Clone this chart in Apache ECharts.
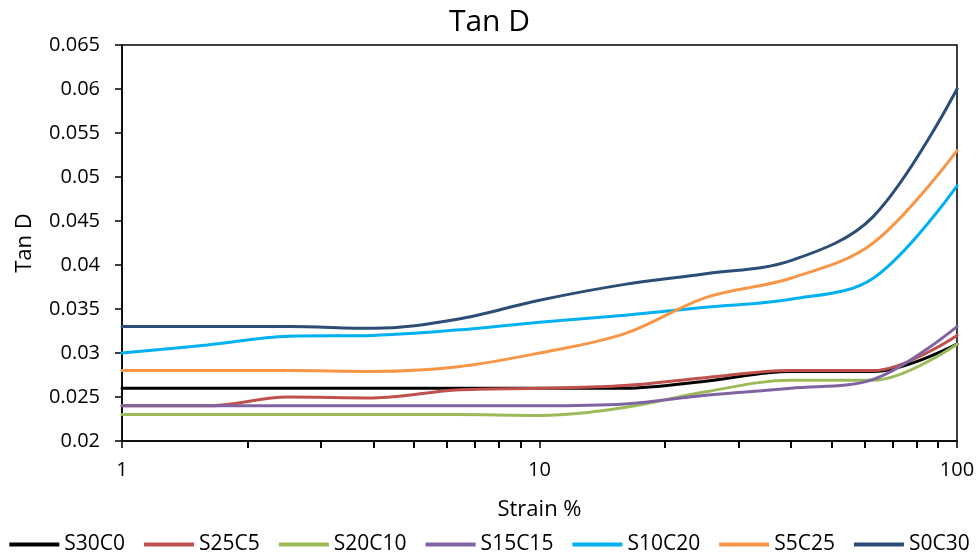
<!DOCTYPE html>
<html>
<head>
<meta charset="utf-8">
<script src="https://cdn.jsdelivr.net/npm/echarts@6/dist/echarts.min.js"></script>
<style>html,body{margin:0;padding:0;background:#fff;}#c{width:979px;height:560px;}</style>
</head>
<body>
<div id="c"></div>
<script>
var strain = [1, 1.6, 2.5, 4, 6.3, 10, 16, 25, 40, 63, 100];
var S30C0  = [0.026, 0.026, 0.026, 0.026, 0.026, 0.026, 0.026, 0.0268, 0.0279, 0.0279, 0.031];
var S25C5  = [0.024, 0.024, 0.025, 0.0249, 0.0258, 0.026, 0.0263, 0.0272, 0.028, 0.028, 0.032];
var S20C10 = [0.023, 0.023, 0.023, 0.023, 0.023, 0.0229, 0.0238, 0.0256, 0.0269, 0.0269, 0.031];
var S15C15 = [0.024, 0.024, 0.024, 0.024, 0.024, 0.024, 0.0242, 0.0252, 0.026, 0.027, 0.033];
var S10C20 = [0.030, 0.0309, 0.0319, 0.032, 0.0326, 0.0335, 0.0343, 0.0352, 0.0361, 0.0385, 0.049];
var S5C25  = [0.028, 0.028, 0.028, 0.0279, 0.0284, 0.030, 0.0322, 0.0363, 0.0385, 0.0425, 0.053];
var S0C30  = [0.033, 0.033, 0.033, 0.0328, 0.0338, 0.036, 0.0378, 0.039, 0.0405, 0.0455, 0.060];
var seriesNames = ['S30C0', 'S25C5', 'S20C10', 'S15C15', 'S10C20', 'S5C25', 'S0C30'];
var seriesValues = [S30C0, S25C5, S20C10, S15C15, S10C20, S5C25, S0C30];
var colors = ['#000000', '#C0504D', '#9BBB59', '#8064A2', '#00B0F0', '#F79646', '#2C4D75'];
var yMin = 0.02, yMax = 0.065;

var FONT = 'Open Sans';
var series = seriesNames.map(function (n, i) {
  return {
    name: n, type: 'line', smooth: 0.35, showSymbol: false, symbol: 'none',
    data: strain.map(function (x, j) { return [x, seriesValues[i][j]]; }),
    lineStyle: { color: colors[i], width: 3, cap: 'round' },
    itemStyle: { color: colors[i] },
    emphasis: { disabled: true }, z: 3 + i
  };
});

var chart = echarts.init(document.getElementById('c'), null, { renderer: 'canvas' });
chart.setOption({
  animation: false,
  color: colors,
  title: { text: 'Tan D', left: 'center', top: 2,
           textStyle: { fontFamily: FONT, fontSize: 30, fontWeight: 'normal', color: '#000' } },
  grid: { left: 122, right: 22, top: 45, bottom: 119, show: true, borderColor: '#000', borderWidth: 1.5, backgroundColor: 'transparent' },
  legend: { data: seriesNames, bottom: 0, left: 'center', itemWidth: 50, itemHeight: 4, itemGap: 19, icon: 'rect',
            textStyle: { fontFamily: FONT, fontSize: 21, color: '#000' } },
  xAxis: {
    type: 'log', logBase: 10, min: 1, max: 100,
    name: 'Strain %', nameLocation: 'middle', nameGap: 58,
    nameTextStyle: { fontFamily: FONT, fontSize: 22, color: '#000' },
    axisLine: { lineStyle: { color: '#000', width: 1.5 } },
    axisTick: { show: true, length: 7, lineStyle: { color: '#000', width: 1.5 } },
    axisLabel: { fontFamily: FONT, fontSize: 20, color: '#000', margin: 19 },
    splitLine: { show: false },
    minorTick: { show: true, splitNumber: 9, length: 7, lineStyle: { color: '#000', width: 2 } }
  },
  yAxis: {
    type: 'value', min: yMin, max: yMax, interval: 0.005,
    name: 'Tan D', nameLocation: 'middle', nameGap: 86, nameRotate: 90,
    nameTextStyle: { fontFamily: FONT, fontSize: 22, color: '#000' },
    axisLine: { show: true, lineStyle: { color: '#000', width: 1.5 } },
    axisTick: { show: true, length: 7, lineStyle: { color: '#000', width: 1.5 } },
    axisLabel: { fontFamily: FONT, fontSize: 20, color: '#000', margin: 22,
                 formatter: function (v) { return String(parseFloat(v.toFixed(4))); } },
    splitLine: { show: false }
  },
  series: series
});
</script>
</body>
</html>
